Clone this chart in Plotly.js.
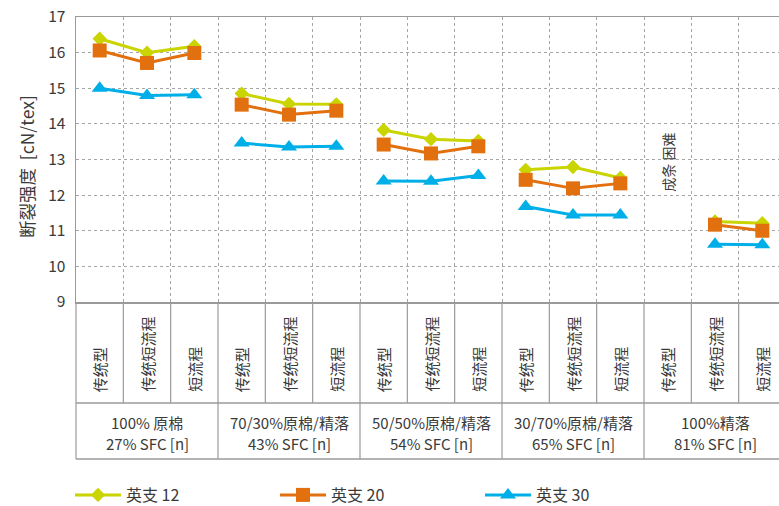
<!DOCTYPE html>
<html>
<head>
<meta charset="utf-8">
<script src="https://cdn.plot.ly/plotly-3.0.1.min.js"></script>
<style>
  html, body { margin: 0; padding: 0; background: #fff; overflow: hidden; }
  #chart { width: 800px; height: 520px; }
</style>
</head>
<body>
<div id="chart"></div>
<script>
// Spinning processes within each fibre blend
const processes = ['传统型', '传统短流程', '短流程'];
// Fibre blends (raw cotton / comber noil) and their short fibre content
const blends = ['100% 原棉', '70/30%原棉/精落', '50/50%原棉/精落', '30/70%原棉/精落', '100%精落'];
const sfc = ['27% SFC [n]', '43% SFC [n]', '54% SFC [n]', '65% SFC [n]', '81% SFC [n]'];
// Tenacity [cN/tex] per blend x process (null = sliver could not be formed)
const ne12 = [16.39, 16.00, 16.18, 14.85, 14.56, 14.55, 13.83, 13.57, 13.52, 12.71, 12.79, 12.48, null, 11.26, 11.21];
const ne20 = [16.06, 15.71, 15.99, 14.54, 14.26, 14.37, 13.42, 13.17, 13.37, 12.43, 12.19, 12.33, null, 11.17, 11.00];
const ne30 = [15.00, 14.80, 14.82, 13.46, 13.35, 13.37, 12.40, 12.39, 12.55, 11.68, 11.44, 11.44, null, 10.62, 10.61];
const seriesNames = ['英支 12', '英支 20', '英支 30'];
const failNote = '成条 困难';
const yTitle = '断裂强度\u00a0 [cN/tex]';

const nCols = blends.length * processes.length;
const FONT = '"Noto Sans CJK SC", "Noto Sans", sans-serif';
const GRID = '#a6a6a6';
const LINE = '#9a9a9a';
const TXT = '#3a3a3a';

// plot area in pixels (the canvas runs a little past the visible frame)
const TOP = 17, BOTTOM = 302, H = 520, W = 800, LEFT = 76, RIGHT = 786;
const py = p => (BOTTOM - p) / (BOTTOM - TOP);   // pixel row -> paper y
const px = c => c / nCols;                         // column index -> paper x

// lines are broken between blends: x at column centres, null separators
function buildSeries(vals) {
  const x = [], y = [];
  blends.forEach((b, g) => {
    processes.forEach((p, i) => {
      const k = g * processes.length + i;
      x.push(k + 0.5);
      y.push(vals[k]);
    });
    x.push(null); y.push(null);
  });
  return {x, y};
}

const styles = [
  {color: '#c9d400', symbol: 'diamond', size: 11},
  {color: '#e2700f', symbol: 'square', size: 14},
  {color: '#00afe8', symbol: 'triangle-up', size: 14}
];

const traces = [ne12, ne20, ne30].map((vals, i) => {
  const s = buildSeries(vals);
  return {
    type: 'scatter', mode: 'lines+markers',
    x: s.x, y: s.y, name: seriesNames[i],
    connectgaps: false, cliponaxis: false,
    line: {color: styles[i].color, width: 3},
    marker: {color: styles[i].color, symbol: styles[i].symbol, size: styles[i].size, line: {width: 0}},
    hoverinfo: 'x+y'
  };
});

// table beneath the axis
const shapes = [];
const rowMid = py(403), rowBot = py(459);
for (let c = 0; c <= nCols; c++) {
  const isGroup = c % processes.length === 0;
  shapes.push({type: 'line', xref: 'paper', yref: 'paper',
    x0: px(c), x1: px(c), y0: 0, y1: isGroup ? rowBot : rowMid,
    line: {color: LINE, width: 1.2}});
}
[rowMid, rowBot].forEach(yy => shapes.push({type: 'line', xref: 'paper', yref: 'paper',
  x0: 0, x1: 1, y0: yy, y1: yy, line: {color: LINE, width: 1.5}}));

const annotations = [];
blends.forEach((b, g) => {
  processes.forEach((p, i) => {
    const k = g * processes.length + i;
    annotations.push({xref: 'paper', yref: 'paper', x: px(k + 0.5), y: py(394),
      text: p, textangle: -90, showarrow: false, xanchor: 'center', yanchor: 'bottom',
      font: {family: FONT, size: 15, color: TXT}});
  });
  annotations.push({xref: 'paper', yref: 'paper', x: px(g * 3 + 1.5), y: py(422),
    text: b, showarrow: false, xanchor: 'center', yanchor: 'middle',
    font: {family: FONT, size: 15, color: TXT}});
  annotations.push({xref: 'paper', yref: 'paper', x: px(g * 3 + 1.5), y: py(443),
    text: sfc[g], showarrow: false, xanchor: 'center', yanchor: 'middle',
    font: {family: FONT, size: 15, color: TXT}});
});
annotations.push({xref: 'paper', yref: 'paper', x: px(12.5), y: py(162),
  text: failNote, textangle: -90, showarrow: false, xanchor: 'center', yanchor: 'middle',
  font: {family: FONT, size: 14, color: TXT}});
annotations.push({xref: 'paper', yref: 'paper', x: (26 - LEFT) / (RIGHT - LEFT), y: py(167),
  text: yTitle, textangle: -90, showarrow: false, xanchor: 'center', yanchor: 'middle',
  font: {family: FONT, size: 17.5, color: TXT}});

const layout = {
  width: W, height: H,
  margin: {l: LEFT, r: W - RIGHT, t: TOP, b: H - BOTTOM, autoexpand: false},
  paper_bgcolor: '#fff', plot_bgcolor: '#fff',
  font: {family: FONT, color: TXT},
  showlegend: true,
  legend: {orientation: 'h', x: -6 / (RIGHT - LEFT), xanchor: 'left', y: py(495), yanchor: 'middle',
    itemwidth: 46, entrywidth: 144, font: {family: FONT, size: 16, color: TXT}, itemclick: false},
  xaxis: {range: [0, nCols], tick0: 0, dtick: 1, showticklabels: false, ticks: '',
    showgrid: true, gridcolor: GRID, griddash: 'dot', gridwidth: 1,
    showline: true, linecolor: LINE, linewidth: 1.5, mirror: true, zeroline: false, fixedrange: true},
  yaxis: {range: [9, 17], tick0: 9, dtick: 1, ticks: '', ticklabelstandoff: 6,
    tickfont: {family: FONT, size: 15.5, color: TXT},
    showgrid: true, gridcolor: GRID, griddash: 'dot', gridwidth: 1,
    showline: true, linecolor: LINE, linewidth: 1.5, mirror: true, zeroline: false, fixedrange: true},
  shapes: shapes,
  annotations: annotations
};

Plotly.newPlot('chart', traces, layout, {displayModeBar: false, staticPlot: true});
</script>
</body>
</html>
